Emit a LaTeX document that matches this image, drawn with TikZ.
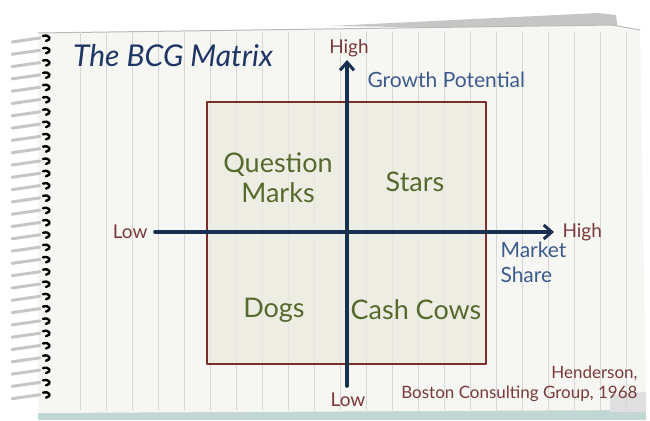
\documentclass[tikz,border=0pt]{standalone}
\usepackage{fontspec}
\setmainfont{Lato}
\usetikzlibrary{arrows.meta,positioning}
\definecolor{PageWhite}{HTML}{F6F6F3}
\definecolor{RuleGray}{HTML}{D6D6DA}
\definecolor{AxisNavy}{HTML}{17304F}
\definecolor{BoxRed}{HTML}{7A2F2A}
\definecolor{BoxFill}{HTML}{ECEBE0}
\definecolor{QuadGreen}{HTML}{566A2E}
\definecolor{TitleBlue}{HTML}{1E3566}
\definecolor{AxisBlue}{HTML}{3D5C8C}
\definecolor{LevelRed}{HTML}{7A3A3A}
\definecolor{EdgeTeal}{HTML}{C2D6D4}

\begin{document}
\begin{tikzpicture}[x=1pt,y=-1pt,line cap=round,line join=round,
  quadlabel/.style={text=QuadGreen,font=\fontsize{27}{30}\selectfont,align=center},
  levellabel/.style={text=LevelRed,font=\fontsize{19}{22}\selectfont},
  axislabel/.style={text=AxisBlue,font=\fontsize{21}{25}\selectfont,align=left},
  axisline/.style={AxisNavy,line width=3.6pt,-{Straight Barb[length=8pt,width=14pt,line width=3pt]}}]
  \useasboundingbox (0,0) rectangle (650,420);
  \fill[white] (0,0) rectangle (650,420);
  % pages behind and the page itself
  \fill[gray!45] (330,26) -- (598,13) -- (616,15) -- (618,30) -- cycle;
  \fill[EdgeTeal] (38,405) rectangle (646,420);
  \fill[PageWhite] (38,33) -- (612,25) -- (640,30) -- (646,410) -- (38,413) -- cycle;
  \draw[gray!55,line width=1pt] (38,33) -- (612,25) -- (640,30);
  \fill[gray!25] (610,395) -- (646,392) -- (646,412) -- (610,412) -- cycle;
  \foreach \x in {80,106,...,630}
    \draw[RuleGray,line width=1pt] (\x,32) -- (\x,410);
  % spiral binding
  \foreach \y in {38,50.3,...,405} {
    \draw[gray!45,line width=3pt] (12,\y+4) -- (40,\y);
    \draw[black,line width=2.4pt] (43,\y-2) .. controls (50,\y-4) and (52,\y+2) .. (46,\y+3);
  }
  % matrix box
  \coordinate (boxNW) at (207,102);
  \coordinate (boxSE) at (486,364);
  \fill[BoxFill,fill opacity=0.8] (boxNW) rectangle (boxSE);
  \draw[BoxRed,line width=2pt] (boxNW) rectangle (boxSE);
  % axes
  \coordinate (growthLo) at (347,386);
  \coordinate (growthHi) at (347,60);
  \coordinate (shareLo) at (155,232);
  \coordinate (shareHi) at (554,232);
  \draw[axisline] (growthLo) -- (growthHi);
  \draw[axisline] (shareLo) -- (shareHi);
  % labels
  \node[text=TitleBlue,font=\fontsize{30}{34}\selectfont\itshape] (title) at (173,56) {The BCG Matrix};
  \node[levellabel] (growthHigh) at (349,48) {High};
  \node[axislabel,anchor=west] (growthText) at (364,80) {Growth Potential};
  \node[levellabel,anchor=east] (shareLow) at (151,232) {Low};
  \node[levellabel,anchor=west] (shareHigh) at (559,232) {High};
  \node[axislabel,anchor=north west] (shareText) at (497,238) {Market\\Share};
  \node[levellabel] (growthLow) at (348,400) {Low};
  \node[levellabel,align=right,anchor=south east,font=\fontsize{17}{20}\selectfont] (source) at (641,405) {Henderson,\\Boston Consulting Group, 1968};
  \node[quadlabel] (question) at (278,178) {Question\\Marks};
  \node[quadlabel] (stars) at (415,182) {Stars};
  \node[quadlabel] (dogs) at (274,310) {Dogs};
  \node[quadlabel] (cows) at (416,310) {Cash Cows};
\end{tikzpicture}
\end{document}
